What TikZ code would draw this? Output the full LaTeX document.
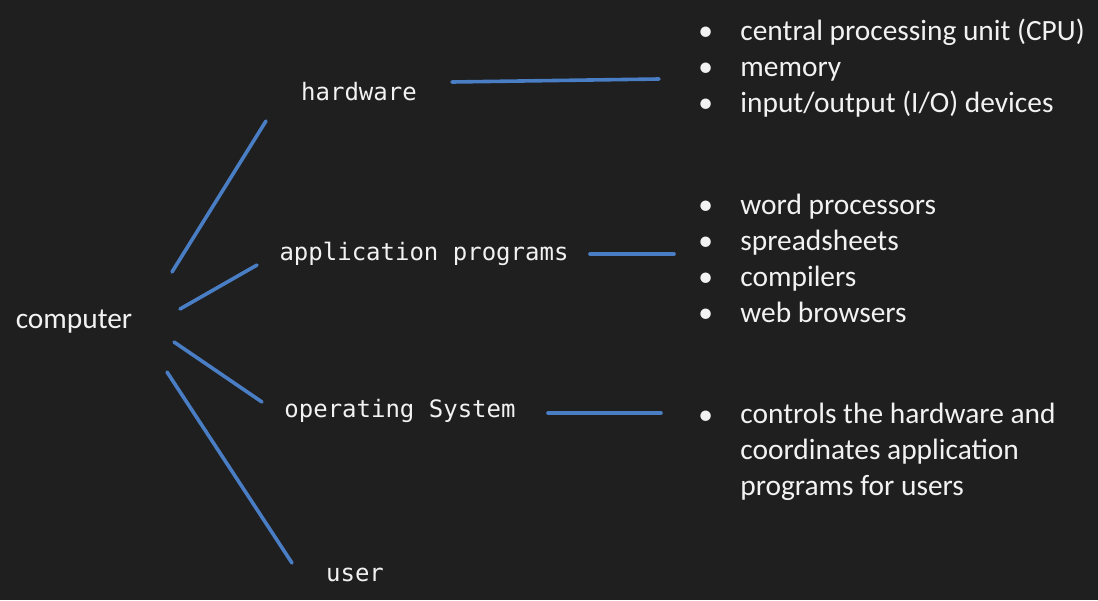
\documentclass[tikz,border=0pt]{standalone}
\usepackage{fontspec}
\setmainfont{Carlito}
\setmonofont{DejaVu Sans Mono}
\definecolor{bgdark}{HTML}{1F1F1F}
\definecolor{linkblue}{HTML}{4A7EC4}
\definecolor{txtwhite}{HTML}{F2F2F2}
\tikzset{
  term/.style={text=txtwhite,font=\fontsize{14.7}{18}\selectfont,inner sep=0pt},
  part/.style={text=txtwhite,font=\ttfamily\fontsize{12}{15}\selectfont,inner sep=0pt},
  item/.style={text=txtwhite,font=\fontsize{14.7}{18}\selectfont,inner sep=0pt,anchor=base west},
  link/.style={linkblue,line width=1.8pt,line cap=round}
}
\begin{document}
\begin{tikzpicture}[x=0.5pt,y=-0.5pt]
        \fill[bgdark] (0,0) rectangle (1098,600);
        \useasboundingbox (0,0) rectangle (1098,600);
        % main terms
        \node[term] (computer) at (74,322) {computer};
        \node[part] (hardware) at (359,92) {hardware};
        \node[part] (apps) at (424,254) {application programs};
        \node[part] (os) at (400,411) {operating System};
        \node[part] (user) at (355,575) {user};
        % line ends
        \coordinate (c-hw) at (172,272);
        \coordinate (hw-c) at (266,121);
        \coordinate (c-app) at (180,309);
        \coordinate (app-c) at (257,265);
        \coordinate (c-os) at (174,342);
        \coordinate (os-c) at (262,402);
        \coordinate (c-user) at (167,372);
        \coordinate (user-c) at (292,563);
        \coordinate (hw-l) at (452,82);
        \coordinate (l-hw) at (659,79);
        \coordinate (app-l) at (590,254);
        \coordinate (l-app) at (674,254);
        \coordinate (os-l) at (548,413);
        \coordinate (l-os) at (661,413);
        \draw[link] (c-hw) -- (hw-c);
        \draw[link] (c-app) -- (app-c);
        \draw[link] (c-os) -- (os-c);
        \draw[link] (c-user) -- (user-c);
        \draw[link] (hw-l) -- (l-hw);
        \draw[link] (app-l) -- (l-app);
        \draw[link] (os-l) -- (l-os);
        % bullet lists
        \foreach \y/\txt [count=\i] in {40/{central processing unit (CPU)},76/{memory},112/{input/output (I/O) devices},
                214/{word processors},250/{spreadsheets},286/{compilers},322/{web browsers}}{
          \node[item] (dot\i) at (698,\y) {•};
          \node[item] (item\i) at (740,\y) {\txt};
        }
        \node[item] (dot8) at (698,424) {•};
        \node[item,anchor=north west,align=left] (item8) at (740,403)
                {controls the hardware and\\coordinates application\\programs for users};
    \end{tikzpicture}
\end{document}
